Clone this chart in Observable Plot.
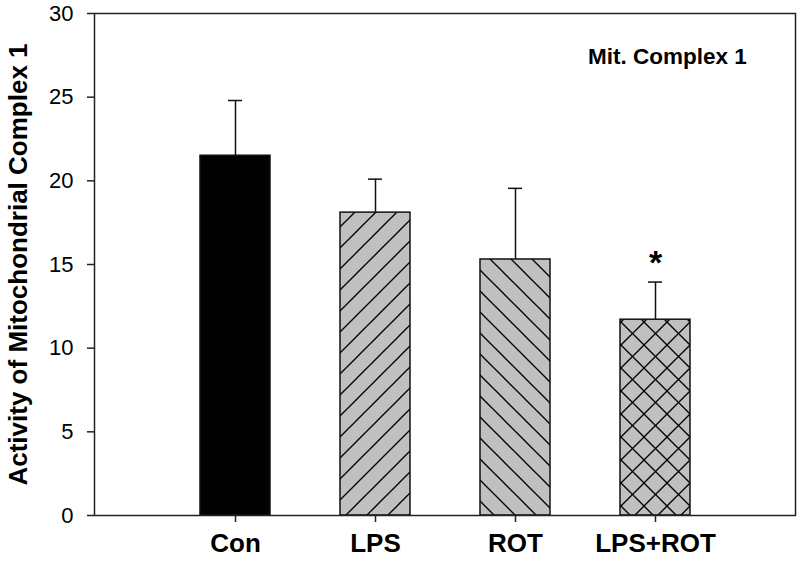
<!DOCTYPE html>
<html>
<head>
<meta charset="utf-8">
<script src="https://cdn.jsdelivr.net/npm/d3@7"></script>
<script src="https://cdn.jsdelivr.net/npm/@observablehq/plot@0.6"></script>
<style>
  html, body { margin: 0; padding: 0; background: #fff; }
  #chart { width: 800px; height: 566px; }
  svg { font-family: "Liberation Sans", Arial, sans-serif; }
  svg g[aria-label="y-axis tick label"] text { font-size: 22px !important; }
</style>
</head>
<body>
<div id="chart"></div>
<script>
const groups = ["Con", "LPS", "ROT", "LPS+ROT"];
const means = [21.5, 18.1, 15.3, 11.7];
const errors = [3.3, 2.0, 4.25, 2.25];
const fills = ["#000000", "url(#hatchLPS)", "url(#hatchROT)", "url(#hatchBoth)"];
const yTicks = [0, 5, 10, 15, 20, 25, 30];
const yTitle = "Activity of Mitochondrial Complex 1";
const annotation = "Mit. Complex 1";
const significance = [{group: "LPS+ROT", y: 15.1, label: "*"}];

const data = groups.map((g, i) => ({group: g, mean: means[i], err: errors[i], top: means[i] + errors[i], fill: fills[i]}));

const plot = Plot.plot({
  width: 800,
  height: 566,
  marginLeft: 94,
  marginRight: 5,
  marginTop: 13,
  marginBottom: 51,
  style: {fontFamily: "'Liberation Sans', Arial, sans-serif", fontSize: "22px", background: "#fff", color: "#000"},
  x: {domain: groups, paddingInner: 0.5, paddingOuter: 0.75, label: null},
  y: {domain: [0, 30], label: null},
  marks: [
    Plot.ruleX(data, {x: "group", y1: "mean", y2: "top", stroke: "#111", strokeWidth: 1.5}),
    Plot.tickY(data, {x: "group", y: "top", stroke: "#111", strokeWidth: 1.5, insetLeft: 28, insetRight: 28}),
    Plot.barY(data, {x: "group", y: "mean", fill: "fill", stroke: "#111", strokeWidth: 1.5}),
    Plot.frame({stroke: "#222", strokeWidth: 1.5}),
    Plot.axisY({ticks: yTicks, tickSize: 7, tickPadding: 14, fontSize: 22, stroke: "#222", strokeWidth: 1.5, label: null, tickFormat: d => String(d)}),
    Plot.axisX({tickSize: 7, tickPadding: 11, fontSize: 26, fontWeight: "bold", stroke: "#222", strokeWidth: 1.5, label: null}),
    Plot.text([yTitle], {frameAnchor: "left", textAnchor: "middle", dx: -76, rotate: -90, fontSize: 26, fontWeight: "bold", fill: "#000"}),
    Plot.text([annotation], {frameAnchor: "top-right", dx: -128, dy: 35, textAnchor: "middle", fontSize: 22.5, fontWeight: "bold", fill: "#000"}),
    Plot.text(significance, {x: "group", y: "y", text: "label", fontSize: 34, fontWeight: "bold", fill: "#000"})
  ]
});

const svg = d3.select(plot);
svg.selectAll('g[aria-label="x-axis tick label"]').attr("font-size", 26).attr("font-weight", "bold");

const defs = svg.insert("defs", ":first-child");
function pattern(id, size, paths) {
  const p = defs.append("pattern").attr("id", id).attr("patternUnits", "userSpaceOnUse")
    .attr("width", size).attr("height", size);
  p.append("rect").attr("width", size).attr("height", size).attr("fill", "#c0c0c0");
  paths.forEach(d => p.append("path").attr("d", d).attr("stroke", "#000").attr("stroke-width", 1.3).attr("fill", "none"));
}
const s = 21;
pattern("hatchLPS", s, [`M0,${s} L${s},0`, `M${-s/2},${s/2} L${s/2},${-s/2}`, `M${s/2},${s*1.5} L${s*1.5},${s/2}`]);
pattern("hatchROT", s, [`M0,0 L${s},${s}`, `M${-s/2},${s/2} L${s/2},${s*1.5}`, `M${s/2},${-s/2} L${s*1.5},${s/2}`]);
const c = 23;
pattern("hatchBoth", c, [`M0,${c} L${c},0`, `M0,0 L${c},${c}`, `M${-c/2},${c/2} L${c/2},${-c/2}`, `M${c/2},${c*1.5} L${c*1.5},${c/2}`, `M${-c/2},${c/2} L${c/2},${c*1.5}`, `M${c/2},${-c/2} L${c*1.5},${c/2}`]);

document.getElementById("chart").appendChild(plot);
</script>
</body>
</html>
